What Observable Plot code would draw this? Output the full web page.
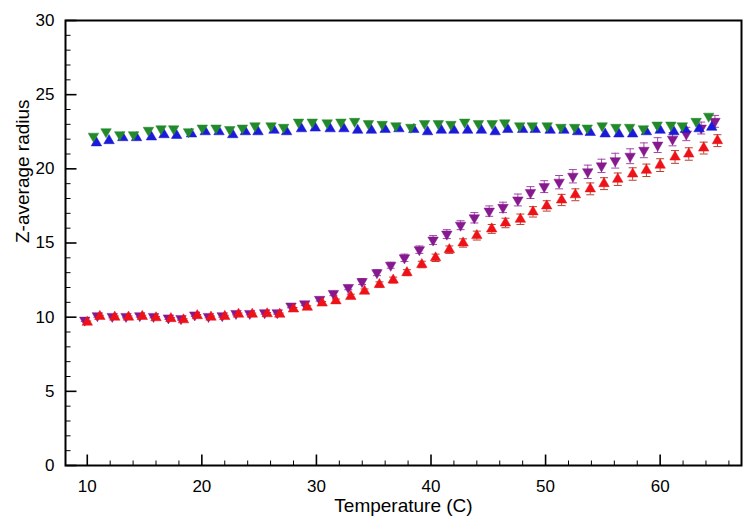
<!DOCTYPE html>
<html>
<head>
<meta charset="utf-8">
<script src="https://cdn.jsdelivr.net/npm/d3@7"></script>
<script src="https://cdn.jsdelivr.net/npm/@observablehq/plot@0.6"></script>
<style>
  html, body { margin: 0; padding: 0; background: #fff; }
  #chart { width: 751px; height: 531px; }
</style>
</head>
<body>
<div id="chart"></div>
<script>
// ---- data ----
const tempLow = [10.0, 11.1, 12.4, 13.6, 14.8, 16.0, 17.3, 18.4, 19.6, 20.8, 22.0, 23.2, 24.4, 25.7, 26.8, 28.0, 29.2, 30.5, 31.7, 33.0, 34.2, 35.5, 36.7, 37.9, 39.2, 40.4, 41.6, 42.8, 44.0, 45.3, 46.5, 47.8, 48.9, 50.1, 51.4, 52.6, 53.9, 55.1, 56.3, 57.6, 58.8, 60.0, 61.3, 62.5, 63.8, 65.0];
const tempHigh = [10.8, 11.9, 13.1, 14.3, 15.6, 16.7, 17.8, 19.1, 20.3, 21.5, 22.7, 23.8, 24.9, 26.3, 27.4, 28.7, 29.9, 31.2, 32.4, 33.6, 34.8, 36.0, 37.2, 38.5, 39.7, 40.9, 42.0, 43.2, 44.4, 45.6, 46.7, 48.0, 49.1, 50.4, 51.6, 52.8, 53.9, 55.2, 56.4, 57.6, 58.8, 60.0, 61.2, 62.2, 63.4, 64.5];

const redValues = [9.66, 10.05, 10.0, 10.0, 10.05, 9.96, 9.9, 9.82, 10.1, 10.0, 10.05, 10.2, 10.2, 10.23, 10.2, 10.55, 10.67, 10.95, 11.1, 11.4, 11.75, 12.2, 12.5, 13.0, 13.55, 14.0, 14.55, 15.0, 15.5, 15.95, 16.35, 16.6, 17.1, 17.5, 17.9, 18.25, 18.65, 19.0, 19.3, 19.65, 19.9, 20.25, 20.8, 21.0, 21.4, 21.9];
const purpleValues = [9.8, 10.1, 10.05, 10.05, 10.1, 10.05, 9.95, 9.9, 10.15, 10.05, 10.1, 10.25, 10.25, 10.3, 10.3, 10.75, 10.9, 11.2, 11.6, 12.0, 12.4, 13.0, 13.5, 14.0, 14.55, 15.2, 15.6, 16.2, 16.7, 17.15, 17.4, 17.9, 18.4, 18.8, 19.1, 19.5, 19.8, 20.2, 20.55, 20.85, 21.25, 21.6, 22.0, 22.35, 22.75, 23.2];
const greenValues = [22.2, 22.5, 22.3, 22.3, 22.6, 22.7, 22.7, 22.5, 22.75, 22.75, 22.65, 22.75, 22.9, 22.9, 22.8, 23.15, 23.15, 23.1, 23.15, 23.2, 23.05, 23.0, 22.9, 22.8, 23.05, 23.05, 23.0, 23.15, 23.05, 23.05, 23.1, 22.9, 22.9, 22.9, 22.8, 22.8, 22.75, 22.9, 22.8, 22.8, 22.7, 22.95, 22.95, 22.9, 23.2, 23.55];
const blueValues = [21.75, 21.9, 22.1, 22.1, 22.15, 22.3, 22.25, 22.35, 22.5, 22.5, 22.3, 22.5, 22.5, 22.6, 22.5, 22.7, 22.75, 22.7, 22.7, 22.6, 22.6, 22.65, 22.7, 22.65, 22.5, 22.6, 22.6, 22.6, 22.6, 22.5, 22.65, 22.65, 22.65, 22.6, 22.6, 22.5, 22.45, 22.35, 22.35, 22.35, 22.5, 22.6, 22.5, 22.65, 22.7, 22.8];

const redErrors = [0.08, 0.08, 0.08, 0.08, 0.08, 0.08, 0.08, 0.08, 0.08, 0.08, 0.08, 0.08, 0.08, 0.08, 0.08, 0.1, 0.1, 0.1, 0.12, 0.15, 0.15, 0.18, 0.2, 0.2, 0.22, 0.25, 0.25, 0.28, 0.3, 0.3, 0.32, 0.35, 0.35, 0.35, 0.38, 0.4, 0.4, 0.4, 0.42, 0.42, 0.42, 0.43, 0.43, 0.42, 0.4, 0.4];
const purpleErrors = [0.1, 0.1, 0.1, 0.1, 0.1, 0.1, 0.1, 0.1, 0.1, 0.1, 0.1, 0.1, 0.1, 0.1, 0.1, 0.12, 0.12, 0.12, 0.15, 0.15, 0.2, 0.2, 0.2, 0.25, 0.25, 0.3, 0.3, 0.3, 0.35, 0.35, 0.35, 0.4, 0.4, 0.4, 0.45, 0.45, 0.45, 0.45, 0.5, 0.5, 0.5, 0.5, 0.45, 0.45, 0.4, 0.4];

const xTickLabels = [10, 20, 30, 40, 50, 60];
const xMinorTicks = [12, 14, 16, 18, 22, 24, 26, 28, 32, 34, 36, 38, 42, 44, 46, 48, 52, 54, 56, 58, 62, 64, 66];
const yTickLabels = [0, 5, 10, 15, 20, 25, 30];
const yMinorTicks = [1, 2, 3, 4, 6, 7, 8, 9, 11, 12, 13, 14, 16, 17, 18, 19, 21, 22, 23, 24, 26, 27, 28, 29];

// ---- build tables ----
const series = (temps, vals, errs) => temps.map((t, i) => ({t, v: vals[i], e: errs ? errs[i] : 0}));
const red = series(tempLow, redValues, redErrors);
const purple = series(tempLow, purpleValues, purpleErrors);
const green = series(tempHigh, greenValues);
const blue = series(tempHigh, blueValues);

const xDomain = [8.1, 67.1];
const yDomain = [0, 30];

// custom symbols
const hLine = (len) => ({draw(ctx) { ctx.moveTo(0, 0); ctx.lineTo(len, 0); }});
const vLine = (len) => ({draw(ctx) { ctx.moveTo(0, 0); ctx.lineTo(0, -len); }});
const cap = (half) => ({draw(ctx) { ctx.moveTo(-half, 0); ctx.lineTo(half, 0); }});

const errorMarks = (data, color, dx) => [
  Plot.ruleX(data, {x: "t", y1: d => d.v - d.e, y2: d => d.v + d.e, stroke: color, strokeWidth: 1, dx}),
  Plot.dot(data, {x: "t", y: d => d.v + d.e, symbol: cap(4), stroke: color, strokeWidth: 1, fill: "none", dx}),
  Plot.dot(data, {x: "t", y: d => d.v - d.e, symbol: cap(4), stroke: color, strokeWidth: 1, fill: "none", dx})
];

const R = 3.9;
const chart = Plot.plot({
  width: 751,
  height: 531,
  marginLeft: 65,
  marginRight: 10,
  marginTop: 20,
  marginBottom: 66,
  style: {fontFamily: "'Liberation Sans', Arial, Helvetica, sans-serif", background: "#fff", color: "#000"},
  x: {domain: xDomain, axis: null},
  y: {domain: yDomain, axis: null},
  marks: [
    ...errorMarks(purple, "#a048a8", -2.5),
    ...errorMarks(red, "#b8402e", 0),
    Plot.dot(purple, {x: "t", y: "v", symbol: "triangle", rotate: 180, r: R, fill: "#87198f", stroke: "#87198f", strokeWidth: 0.5, dx: -2.5}),
    Plot.dot(red, {x: "t", y: "v", symbol: "triangle", r: R, fill: "#ee1218", stroke: "#ee1218", strokeWidth: 0.5}),
    Plot.dot(blue, {x: "t", y: "v", symbol: "triangle", r: R, fill: "#1a1ad8", stroke: "#1a1ad8", strokeWidth: 0.5}),
    Plot.dot(green, {x: "t", y: "v", symbol: "triangle", rotate: 180, r: R, fill: "#228a2a", stroke: "#228a2a", strokeWidth: 0.5, dx: -3}),
    // inward tick marks
    Plot.dot(yTickLabels, {x: xDomain[0], y: d => d, symbol: hLine(11), stroke: "#000", strokeWidth: 1.6, fill: "none"}),
    Plot.dot(yMinorTicks, {x: xDomain[0], y: d => d, symbol: hLine(5), stroke: "#000", strokeWidth: 1, fill: "none"}),
    Plot.dot(xTickLabels, {x: d => d, y: yDomain[0], symbol: vLine(11), stroke: "#000", strokeWidth: 1.6, fill: "none"}),
    Plot.dot(xMinorTicks, {x: d => d, y: yDomain[0], symbol: vLine(5), stroke: "#000", strokeWidth: 1, fill: "none"}),
    Plot.frame({stroke: "#000", strokeWidth: 2}),
    // tick labels
    Plot.axisY({ticks: yTickLabels, tickSize: 0, tickPadding: 11, fontSize: 17, label: null, tickFormat: d => String(d)}),
    Plot.axisX({ticks: xTickLabels, tickSize: 0, tickPadding: 14, fontSize: 17, label: null, tickFormat: d => String(d)}),
    // axis titles
    Plot.text(["Temperature (C)"], {frameAnchor: "bottom", dy: 46, fontSize: 19, fill: "#000"}),
    Plot.text(["Z-average radius"], {frameAnchor: "left", dx: -43, rotate: -90, fontSize: 19, fill: "#000"})
  ]
});
document.getElementById("chart").appendChild(chart);
</script>
</body>
</html>
